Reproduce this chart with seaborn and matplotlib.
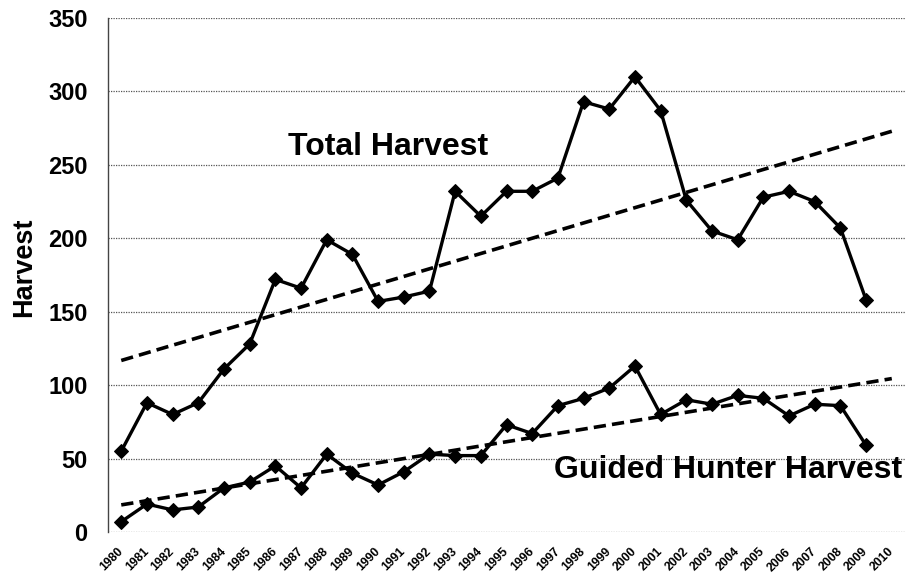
import numpy as np
import pandas as pd
import matplotlib
matplotlib.use("Agg")
import matplotlib.pyplot as plt
import seaborn as sns

years = list(range(1980, 2010))
tick_years = list(range(1980, 2011))
total_harvest = [55, 88, 80, 88, 111, 128, 172, 166, 199, 189,
                 157, 160, 164, 232, 215, 232, 232, 241, 293, 288,
                 310, 287, 226, 205, 199, 228, 232, 225, 207, 158]
guided_harvest = [7, 19, 15, 17, 30, 34, 45, 30, 53, 40,
                  32, 41, 53, 52, 52, 73, 67, 86, 91, 98,
                  113, 80, 90, 87, 93, 91, 79, 87, 86, 59]

df = pd.DataFrame({"Year": years, "Total": total_harvest, "Guided": guided_harvest})

# linear trend lines, extended one year forward like the excel trendline
trend = pd.DataFrame({"Year": tick_years})
for col in ["Total", "Guided"]:
    slope, icept = np.polyfit(df["Year"], df[col], 1)
    trend[col] = slope * trend["Year"] + icept

sns.set_theme(style="white")
plt.rcParams["font.family"] = ["Liberation Sans", "DejaVu Sans"]
plt.rcParams["text.color"] = "black"
plt.rcParams["axes.labelcolor"] = "black"
plt.rcParams["xtick.color"] = "black"
plt.rcParams["ytick.color"] = "black"

fig, ax = plt.subplots(figsize=(9.11, 5.82), dpi=100)
fig.subplots_adjust(left=0.119, right=0.993, top=0.969, bottom=0.086)

for col in ["Total", "Guided"]:
    sns.lineplot(data=df, x="Year", y=col, ax=ax, color="black", linewidth=2.4,
                 marker="D", markersize=7, markeredgecolor="black")
    sns.lineplot(data=trend, x="Year", y=col, ax=ax, color="black", linewidth=2.6,
                 linestyle=(0, (3.4, 1.7)))

ax.set_xlim(1979.5, 2010.5)
ax.set_ylim(0, 350)
ax.set_yticks(range(0, 351, 50))
ax.set_xticks(tick_years)
ax.set_xticklabels([str(y) for y in tick_years], rotation=45, fontsize=8.8,
                   fontweight="bold", ha="right", va="center", rotation_mode="anchor")
ax.tick_params(axis="y", labelsize=17, pad=15, length=0)
ax.tick_params(axis="x", pad=13, length=0)
for lbl in ax.get_yticklabels():
    lbl.set_fontweight("bold")

ax.grid(axis="y", linestyle=(0, (1, 1)), color="#555555", linewidth=0.9)
for s in ["top", "right", "bottom"]:
    ax.spines[s].set_visible(False)
ax.spines["left"].set_linestyle((0, (1, 1)))
ax.spines["left"].set_color("#444444")
ax.spines["left"].set_linewidth(1.0)

ax.set_xlabel("")
ax.set_ylabel("Harvest", fontsize=19.5, fontweight="bold")
ax.yaxis.set_label_coords(-0.09, 0.515)

ax.text(1990.4, 262, "Total Harvest", fontsize=23, fontweight="bold", ha="center", va="center")
ax.text(2010.4, 42, "Guided Hunter Harvest", fontsize=23, fontweight="bold", ha="right", va="center")

fig.savefig("out.png", dpi=100)
